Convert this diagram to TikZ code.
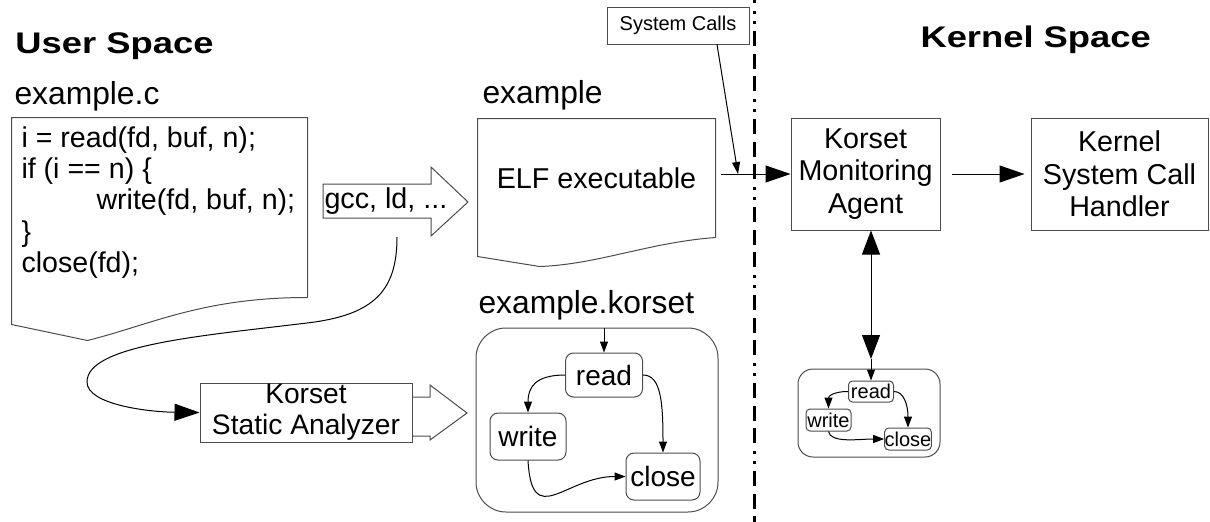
\documentclass[tikz,border=0pt]{standalone}
\usepackage{fontspec}
\setmainfont{Liberation Sans}
\newfontfamily\titlefont{Liberation Sans}[FakeStretch=1.22]
\usetikzlibrary{arrows.meta}

\begin{document}
\begin{tikzpicture}[x=1pt,y=-1pt,line width=1pt,
	big/.style={-{Triangle[length=25pt,width=17pt]}},
	small/.style={-{Triangle[length=11pt,width=8pt]}},
	box/.style={draw=black!70,inner sep=0pt,align=center,font=\fontsize{28.7}{32.5}\selectfont},
	state/.style={draw=black!70,rounded corners=8pt,inner sep=0pt,font=\fontsize{28}{28}\selectfont},
	ministate/.style={draw=black!70,rounded corners=4pt,inner sep=0pt,font=\fontsize{20}{20}\selectfont},
	lbl/.style={anchor=base west,inner sep=0pt,font=\fontsize{31.8}{31.8}\selectfont},
	title/.style={anchor=base west,inner sep=0pt,font=\fontsize{29.8}{29.8}\titlefont\bfseries}]
		\useasboundingbox (0,0) rectangle (1210,522);
		% titles and file names
		\node[title] (user) at (15,53) {User Space};
		\node[title] (kernsp) at (920,47) {Kernel Space};
		\node[lbl] (srcname) at (14,104) {example.c};
		\node[lbl] (elfname) at (482,103) {example};
		\node[lbl] (korname) at (478,313) {example.korset};
		% source document
		\node[minimum width=295pt,minimum height=179pt,inner sep=0pt] (src) at (159.5,207.5) {};
		\draw[black!70] (src.south east) -- (src.north east) -- (src.north west) -- ++(0,207) -- ++(76,16)
			.. controls +(64,-16) and +(-105,0) .. (src.south east);
		\node[anchor=north west,inner sep=0pt,align=left,font=\fontsize{28.6}{31.3}\selectfont] (code) at (21,126)
			{i = read(fd, buf, n);\\ if (i == n) \{\\ \hspace*{75pt}write(fd, buf, n);\\ \}\\ close(fd);};
		% compiler arrow
		\draw[black!70] (323,184) -- (431,184) -- (431,167) -- (468,202) -- (431,236) -- (431,218) -- (323,218) -- cycle;
		\node[anchor=west,inner sep=1pt,font=\fontsize{28.7}{28.7}\selectfont] (gcc) at (323,201) {gcc, ld, ...};
		\coordinate (gccfoot) at (397,237);
		% executable
		\node[box,minimum width=237pt,minimum height=118pt,draw=none] (elf) at (596.5,178) {ELF executable};
		\draw[black!70] (elf.south east) -- (elf.north east) -- (elf.north west) -- ++(0,138) -- ++(62,10)
			.. controls +(58,-2) and +(-67,5) .. (elf.south east);
		% static analyzer
		\draw[black!70] (412,397) -- (430,397) -- (430,385) -- (467,413) -- (430,440) -- (430,436) -- (412,436);
		\node[box,fill=white,minimum width=212pt,minimum height=59pt,font=\fontsize{28.2}{31}\selectfont] (ana) at (306,412.5) {Korset\\Static Analyzer};
		\draw[big] (gccfoot) .. controls (397,290) and (375,315) .. (307,323)
			.. controls (200,336) and (87,345) .. (87,382)
			.. controls (87,405) and (150,412) .. (ana.west);
		% korset automaton
		\node[draw=black!70,rounded corners=30pt,minimum width=242pt,minimum height=184pt] (kbox) at (597,420) {};
		\node[state,minimum width=77pt,minimum height=44pt] (kread) at (604,375) {read};
		\node[state,minimum width=76pt,minimum height=47pt] (kwrite) at (528,436.5) {write};
		\node[state,minimum width=74pt,minimum height=47pt] (kclose) at (663,476.5) {close};
		\draw[small] (kread |- kbox.north) -- (kread.north);
		\draw[small] (kread.west) .. controls +(-30,0) and +(0,-25) .. (kwrite.north);
		\draw[small] (kread.east) .. controls +(18,0) and +(0,-50) .. (kclose.north);
		\draw[small] (kwrite.south) .. controls +(4,70) and +(-60,0) .. (kclose.west);
		% user / kernel boundary
		\draw[line width=3pt,dash pattern=on 3pt off 7pt on 3pt off 7pt on 15pt off 8pt on 15pt off 7pt on 15pt off 8pt,dash phase=77pt] (754,0) -- (754,522);
		% system calls
		\node[box,minimum width=142pt,minimum height=37pt,font=\fontsize{20}{20}\selectfont] (sysc) at (678,25.5) {System Calls};
		\node[box,minimum width=149pt,minimum height=112pt] (agent) at (865.5,174) {Korset\\Monitoring\\Agent};
		\node[box,minimum width=177pt,minimum height=112pt] (kern) at (1119.5,174) {Kernel\\System Call\\Handler};
		\coordinate (callpt) at (721,174);
		\coordinate (callhit) at (738,174);
		\draw[big] (callpt) -- (agent.west);
		\draw[-{Triangle[length=12pt,width=8pt]}] ([xshift=39pt]sysc.south) -- (callhit);
		\draw[big,shorten <=11pt,shorten >=6pt] (agent) -- (kern);
		% loaded automaton
		\node[draw=black!70,rounded corners=15pt,minimum width=142pt,minimum height=88pt] (mbox) at (869,413) {};
		\node[ministate,minimum width=45pt,minimum height=21pt] (mread) at (871,391.5) {read};
		\node[ministate,minimum width=45pt,minimum height=22pt] (mwrite) at (828.5,420) {write};
		\node[ministate,minimum width=46pt,minimum height=22pt] (mclose) at (908,439) {close};
		\coordinate (mtop) at (871,359);
		\draw[{Triangle[length=24pt,width=18pt]}-{Triangle[length=24pt,width=18pt]}] (agent.south -| mtop) -- (mtop);
		\draw[small] (mtop) -- (mread.north);
		\draw[small] (mread.west) .. controls +(-15,0) and +(0,-12) .. (mwrite.north);
		\draw[small] (mread.east) .. controls +(10,0) and +(0,-22) .. (mclose.north);
		\draw[small] (mwrite.south) .. controls +(2,12) and +(-25,0) .. (mclose.west);
	\end{tikzpicture}
\end{document}
